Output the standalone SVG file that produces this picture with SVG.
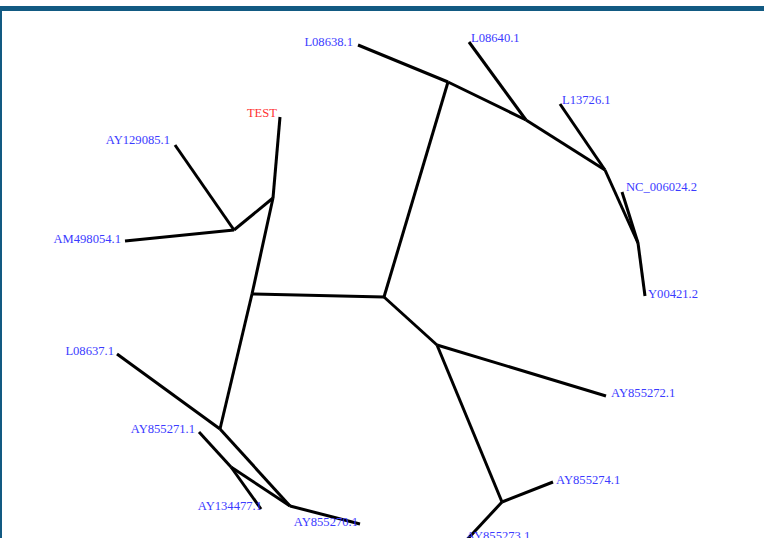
<svg xmlns="http://www.w3.org/2000/svg" width="764" height="538" viewBox="0 0 764 538">
<style>
.e{stroke:#000;stroke-width:3;fill:none;stroke-linecap:butt}
.t{font-family:"Liberation Serif","Times New Roman",serif;font-size:12.6px;fill:#3b3bff}
.r{fill:#ff3333}
.end{text-anchor:end}
</style>
<rect x="0" y="0" width="764" height="538" fill="#fff"/>
<rect x="0" y="6" width="764" height="5" fill="#125a82"/>
<rect x="0" y="6" width="2" height="532" fill="#125a82"/>
<g id="connectors">
<path class="e" d="M252,294 L384,297"/>
<path class="e" d="M252,294 L273,198"/>
<path class="e" d="M252,294 L220,429"/>
<path class="e" d="M273,198 L280,117"/>
<path class="e" d="M273,198 L234,230"/>
<path class="e" d="M234,230 L175,145"/>
<path class="e" d="M234,230 L125,241"/>
<path class="e" d="M384,297 L448,82"/>
<path class="e" d="M384,297 L437,345"/>
<path class="e" d="M448,82 L358,45"/>
<path class="e" d="M448,82 L526,120"/>
<path class="e" d="M526,120 L469,42"/>
<path class="e" d="M526,120 L605,170"/>
<path class="e" d="M605,170 L560,104"/>
<path class="e" d="M605,170 L638,243"/>
<path class="e" d="M638,243 L622,192"/>
<path class="e" d="M638,243 L645,296"/>
<path class="e" d="M437,345 L606,396"/>
<path class="e" d="M437,345 L502,502"/>
<path class="e" d="M502,502 L553,482"/>
<path class="e" d="M502,502 L462,545"/>
<path class="e" d="M220,429 L117,354"/>
<path class="e" d="M220,429 L290,506"/>
<path class="e" d="M290,506 L231,467"/>
<path class="e" d="M290,506 L360,524"/>
<path class="e" d="M231,467 L199,432"/>
<path class="e" d="M231,467 L261,509"/>
</g>
<g id="n-TEST"><text class="t r end" x="277" y="117">TEST</text></g>
<g id="n-AY129085"><text class="t end" x="170" y="144">AY129085.1</text></g>
<g id="n-AM498054"><text class="t end" x="121" y="243">AM498054.1</text></g>
<g id="n-L08638"><text class="t end" x="353" y="46">L08638.1</text></g>
<g id="n-L08640"><text class="t" x="471" y="42">L08640.1</text></g>
<g id="n-L13726"><text class="t" x="562" y="104">L13726.1</text></g>
<g id="n-NC006024"><text class="t" x="626" y="191">NC_006024.2</text></g>
<g id="n-Y00421"><text class="t" x="648" y="298">Y00421.2</text></g>
<g id="n-AY855272"><text class="t" x="611" y="397">AY855272.1</text></g>
<g id="n-AY855274"><text class="t" x="556" y="484">AY855274.1</text></g>
<g id="n-AY855273"><text class="t" x="466" y="540">AY855273.1</text></g>
<g id="n-L08637"><text class="t end" x="114" y="355">L08637.1</text></g>
<g id="n-AY855271"><text class="t end" x="195" y="433">AY855271.1</text></g>
<g id="n-AY134477"><text class="t end" x="262" y="510">AY134477.1</text></g>
<g id="n-AY855270"><text class="t end" x="358" y="526">AY855270.1</text></g>
</svg>
